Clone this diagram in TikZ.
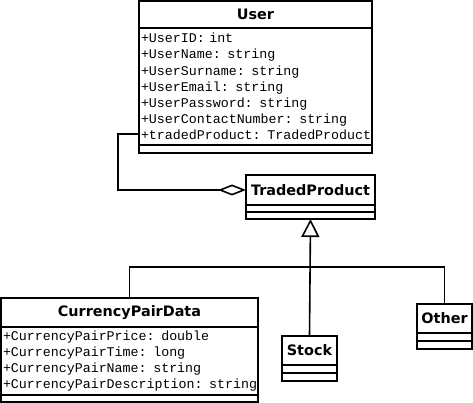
\documentclass[tikz,border=0pt]{standalone}
\usepackage{fontspec}
\usepackage{tikz}
\usetikzlibrary{positioning,arrows.meta,calc}
\newfontfamily\umlSans{DejaVu Sans}
\newfontfamily\umlMono{Liberation Mono}

\begin{document}
\begin{tikzpicture}[
        x=1pt, y=-1pt,
        umlTitle/.style={draw=black, line width=1.6pt, fill=white, inner sep=0pt, outer sep=0pt, font=\umlSans\fontsize{14.4}{16}\selectfont\bfseries},
        umlAttrs/.style={draw=black, line width=1.6pt, fill=white, inner xsep=2pt, inner ysep=0pt, outer sep=0pt, align=left, font=\umlMono\fontsize{13.3}{16.2}\selectfont},
        umlOps/.style={draw=black, line width=1.6pt, fill=white, inner sep=0pt, outer sep=0pt, minimum height=8pt},
        linkStyle/.style={line width=1.6pt, draw=black}
    ]
        \useasboundingbox (0,0) rectangle (473,403);

        % User
        \node[umlTitle, anchor=north west, minimum width=233pt, minimum height=27pt] (userTitle) at (139,1) {User};
        \node[umlAttrs, below=0pt of userTitle, text width=229pt, minimum height=117pt] (userAttrs) {%
            \mbox{+UserID: int}\\
            \mbox{+UserName: string}\\
            \mbox{+UserSurname: string}\\
            \mbox{+UserEmail: string}\\
            \mbox{+UserPassword: string}\\
            \mbox{+UserContactNumber: string}\\
            \mbox{+tradedProduct: TradedProduct}};
        \node[umlOps, below=0pt of userAttrs, minimum width=233pt] (userOps) {};

        % TradedProduct
        \node[umlTitle, anchor=north west, minimum width=129pt, minimum height=30pt] (tpTitle) at (246,175) {TradedProduct};
        \node[umlOps, below=0pt of tpTitle, minimum width=129pt, minimum height=7pt] (tpAttrs) {};
        \node[umlOps, below=0pt of tpAttrs, minimum width=129pt, minimum height=7pt] (tpOps) {};

        % CurrencyPairData
        \node[umlTitle, anchor=north west, minimum width=257pt, minimum height=29pt] (cpdTitle) at (1,298) {CurrencyPairData};
        \node[umlAttrs, below=0pt of cpdTitle, text width=253pt, minimum height=68pt] (cpdAttrs) {%
            \mbox{+CurrencyPairPrice: double}\\
            \mbox{+CurrencyPairTime: long}\\
            \mbox{+CurrencyPairName: string}\\
            \mbox{+CurrencyPairDescription: string}};
        \node[umlOps, below=0pt of cpdAttrs, minimum width=257pt, minimum height=7pt] (cpdOps) {};

        % Stock
        \node[umlTitle, anchor=north west, minimum width=55pt, minimum height=29pt] (stockTitle) at (282,336) {Stock};
        \node[umlOps, below=0pt of stockTitle, minimum width=55pt] (stockAttrs) {};
        \node[umlOps, below=0pt of stockAttrs, minimum width=55pt] (stockOps) {};

        % Other
        \node[umlTitle, anchor=north west, minimum width=55pt, minimum height=29pt] (otherTitle) at (417,304) {Other};
        \node[umlOps, below=0pt of otherTitle, minimum width=55pt] (otherAttrs) {};
        \node[umlOps, below=0pt of otherAttrs, minimum width=55pt] (otherOps) {};

        % Aggregation User -> TradedProduct
        \coordinate (aggStart) at (userAttrs.west |- 0,134);
        \coordinate (aggBend) at (118,134);
        \draw[linkStyle, -{Diamond[open, fill=white, length=28pt, width=11pt]}] (aggStart) -- (aggBend) |- (tpTitle.west);

        % Generalisation
        \draw[linkStyle, -{Triangle[open, fill=white, length=18pt, width=18pt]}] (stockTitle.north) -- (tpOps.south);
        \coordinate (split) at (stockTitle.north |- 0,267);
        \draw[linkStyle] (cpdTitle.north) |- (split) -| (otherTitle.north);
    \end{tikzpicture}
\end{document}
